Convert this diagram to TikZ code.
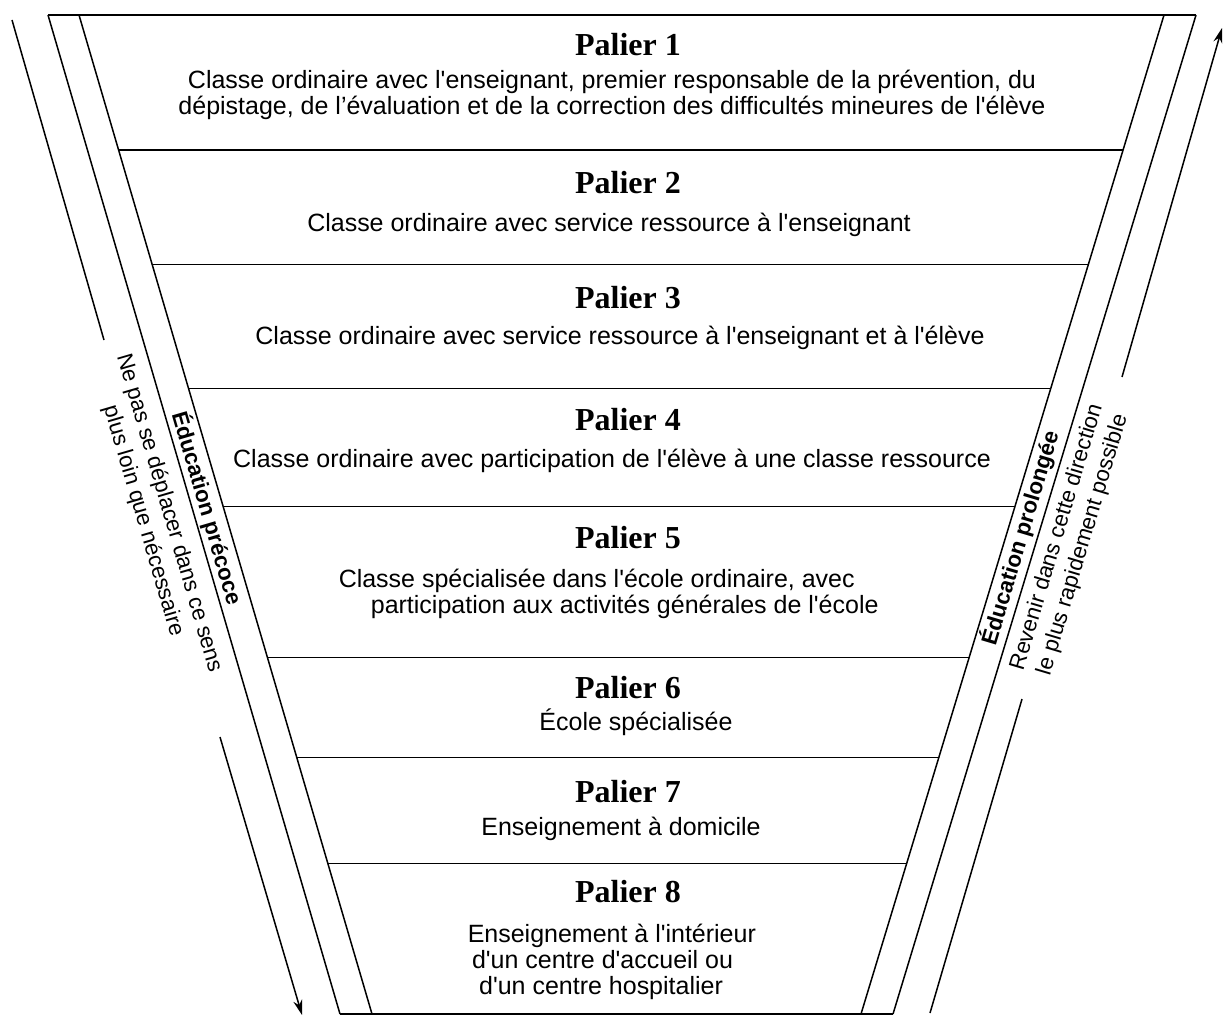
\documentclass[tikz,border=0pt]{standalone}
\usepackage{fontspec}
\newfontfamily\descfont{Liberation Sans}
\newfontfamily\palierfont{Liberation Serif}
\usetikzlibrary{arrows.meta,calc}
\tikzset{
    palier/.style={font=\palierfont\bfseries\fontsize{12.75}{14}\selectfont, inner sep=0pt},
    desc/.style={font=\descfont\fontsize{9.96}{10.4}\selectfont, align=center, inner sep=0pt},
    sidetag/.style={font=\descfont\bfseries\fontsize{8.9}{10.7}\selectfont, align=center, inner sep=0pt},
    sidenote/.style={font=\descfont\fontsize{8.9}{10.7}\selectfont, align=center, inner sep=0pt}
}

\begin{document}
\begin{tikzpicture}[x=0.014cm,y=-0.014cm,>={Stealth[length=6pt,width=3.6pt]},line width=0.6pt]
\useasboundingbox (0,0) rectangle (1225,1018);
\def\lrot{-73.7}   % rotation of texts on the left side
\def\rrot{73.4}    % rotation of texts on the right side
% funnel corners
\coordinate (TL) at (48,15);   \coordinate (tl) at (79,15);
\coordinate (tr) at (1164,15); \coordinate (TR) at (1196,15);
\coordinate (BL) at (340,1014); \coordinate (bl) at (372,1014);
\coordinate (br) at (861,1014); \coordinate (BR) at (893,1014);
% outline
\draw (TL) -- (TR);
\draw (BL) -- (BR);
\draw (TL) -- (BL); \draw (tl) -- (bl);
\draw (tr) -- (br); \draw (TR) -- (BR);
% separators between levels
\foreach \yy in {150,264.5,388.5,506.5,657.5,757.5,863.5} {%
\pgfmathsetmacro{\tpos}{(\yy-15)/999}
\draw ($(tl)!\tpos!(bl)$) -- ($(tr)!\tpos!(br)$);
};
% level titles
\foreach \n/\yy in {1/45,2/183,3/298,4/420,5/538,6/688,7/792,8/892} {%
\node[palier] (p\n) at (628,\yy) {Palier \n};
};
% level texts
\node[desc] (d1) at (612,95) {Classe ordinaire avec l'enseignant, premier responsable de la prévention, du\\dépistage, de l’évaluation et de la correction des difficultés mineures de l'élève};
\node[desc] (d2) at (609,225) {Classe ordinaire avec service ressource à l'enseignant};
\node[desc] (d3) at (620,338) {Classe ordinaire avec service ressource à l'enseignant et à l'élève};
\node[desc] (d4) at (612,461) {Classe ordinaire avec participation de l'élève à une classe ressource};
\node[desc,align=left,anchor=west] (d5) at (338,594) {Classe spécialisée dans l'école ordinaire, avec\\\hspace*{0.45cm}participation aux activités générales de l'école};
\node[desc] (d6) at (636,722) {École spécialisée};
\node[desc] (d7) at (621,829) {Enseignement à domicile};
\node[desc,align=left,anchor=west] (d8) at (467,962) {Enseignement à l'intérieur\\\hspace*{0.06cm}d'un centre d'accueil ou\\\hspace*{0.16cm}d'un centre hospitalier};
% side bands
\node[sidetag,rotate=\lrot] (early) at (207,508) {Éducation précoce};
\node[sidetag,rotate=\rrot] (late) at (1020,538) {Éducation prolongée};
% direction arrows
\coordinate (downA) at (12,20);    \coordinate (downB) at (104,340);
\coordinate (downC) at (220,737);  \coordinate (downD) at (302,1015);
\coordinate (upA) at (930,1013);   \coordinate (upB) at (1022,699);
\coordinate (upC) at (1122,377);   \coordinate (upD) at (1222,28);
\draw (downA) -- (downB); \draw[->] (downC) -- (downD);
\draw (upA) -- (upB); \draw[->] (upC) -- (upD);
\node[sidenote,rotate=\lrot] (downtxt) at (156,517) {Ne pas se déplacer dans ce sens\\plus loin que nécessaire};
\node[sidenote,rotate=\rrot] (uptxt) at (1070,541) {Revenir dans cette direction\\le plus rapidement possible};
\end{tikzpicture}
\end{document}
